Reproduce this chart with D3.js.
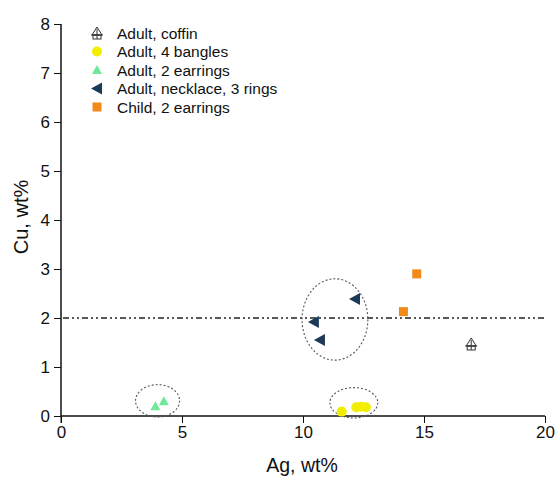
<!DOCTYPE html>
<html><head><meta charset="utf-8">
<script src="https://cdn.jsdelivr.net/npm/d3@7"></script>
<style>body{margin:0;background:#fff}svg{display:block;font-family:"Liberation Sans",Arial,sans-serif}</style>
</head><body><svg id="c" width="556" height="477"></svg>
<script>
const xTicks = [0, 5, 10, 15, 20];
const yTicks = [0, 1, 2, 3, 4, 5, 6, 7, 8];
const seriesNames = ["Adult, coffin", "Adult, 4 bangles", "Adult, 2 earrings", "Adult, necklace, 3 rings", "Child, 2 earrings"];
const coffin = [[16.95, 1.47]];
const bangles = [[11.6, 0.09], [12.2, 0.18], [12.4, 0.19], [12.6, 0.18]];
const earrings = [[3.9, 0.2], [4.25, 0.3]];
const necklace = [[12.15, 2.39], [10.45, 1.92], [10.7, 1.55]];
const child = [[14.15, 2.13], [14.7, 2.9]];
const refLineY = 2;
const ellipses = [[3.99, 0.31, 0.91, 0.33], [12.1, 0.27, 0.99, 0.31], [11.32, 1.97, 1.36, 0.83]];

const svg = d3.select("#c");
const x = d3.scaleLinear().domain([0, 20]).range([61, 545]);
const y = d3.scaleLinear().domain([0, 8]).range([416, 24]);

// axes
const gx = svg.append("g").attr("transform", `translate(0,${y(0)})`)
  .call(d3.axisBottom(x).tickValues(xTicks).tickSize(7).tickPadding(3));
const gy = svg.append("g").attr("transform", `translate(${x(0)},0)`)
  .call(d3.axisLeft(y).tickValues(yTicks).tickSize(7).tickPadding(4));
[gx, gy].forEach(g => {
  g.select(".domain").attr("stroke", "#111").attr("stroke-width", 1.5);
  g.selectAll(".tick line").attr("stroke", "#111").attr("stroke-width", 1);
  g.selectAll(".tick text").attr("font-size", 17).attr("fill", "#111").attr("font-family", "Liberation Sans, Arial, sans-serif");
});
gx.select(".domain").attr("d", `M${x(0)},0H${x(20)}`);
gy.select(".domain").attr("d", `M0,${y(8)}V${y(0)}`);
svg.append("line").attr("x1", x(0)).attr("x2", x(0)).attr("y1", y(0)).attr("y2", y(0) + 7).attr("stroke", "#111");

// axis labels
svg.append("text").attr("x", 302).attr("y", 472).attr("text-anchor", "middle")
  .attr("font-size", 19.5).attr("fill", "#111").text("Ag, wt%");
svg.append("text").attr("transform", `translate(28,217) rotate(-90)`).attr("text-anchor", "middle")
  .attr("font-size", 20).attr("fill", "#111").text("Cu, wt%");

// reference line
svg.append("line").attr("x1", x(0) + 2).attr("x2", x(20)).attr("y1", y(refLineY)).attr("y2", y(refLineY))
  .attr("stroke", "#222").attr("stroke-width", 1.5).attr("stroke-dasharray", "6,3,2,3,2,3");

// ellipses
svg.selectAll("ellipse.grp").data(ellipses).join("ellipse")
  .attr("cx", d => x(d[0])).attr("cy", d => y(d[1]))
  .attr("rx", d => x(d[2]) - x(0)).attr("ry", d => y(0) - y(d[3]))
  .attr("fill", "none").attr("stroke", "#556").attr("stroke-width", 1.1).attr("stroke-dasharray", "2,2");

// marker drawers
const colors = {coffin: "#333", bangles: "#f2ee00", earrings: "#6fe89a", necklace: "#1c3a58", child: "#f28a1a"};
function coffinMark(g, cx, cy) {
  g.append("path").attr("d", `M${cx},${cy-6}L${cx+5},${cy+2}L${cx-5},${cy+2}Z`).attr("fill", "none").attr("stroke", colors.coffin).attr("stroke-width", 1);
  g.append("rect").attr("x", cx - 4).attr("y", cy + 2).attr("width", 8).attr("height", 4).attr("fill", "none").attr("stroke", colors.coffin).attr("stroke-width", 1);
  g.append("line").attr("x1", cx).attr("x2", cx).attr("y1", cy - 4).attr("y2", cy + 6).attr("stroke", colors.coffin);
  g.append("line").attr("x1", cx - 6).attr("x2", cx + 6).attr("y1", cy + 2).attr("y2", cy + 2).attr("stroke", colors.coffin);
}
function circleMark(g, cx, cy) { g.append("circle").attr("cx", cx).attr("cy", cy).attr("r", 5).attr("fill", colors.bangles); }
function triUp(g, cx, cy) { g.append("path").attr("d", `M${cx},${cy-5}L${cx+5},${cy+4}L${cx-5},${cy+4}Z`).attr("fill", colors.earrings); }
function triLeft(g, cx, cy) { g.append("path").attr("d", `M${cx-6},${cy}L${cx+5},${cy-6}L${cx+5},${cy+6}Z`).attr("fill", colors.necklace); }
function sq(g, cx, cy) { g.append("rect").attr("x", cx - 4.5).attr("y", cy - 4.5).attr("width", 9).attr("height", 9).attr("fill", colors.child); }

const groups = [[coffin, coffinMark], [bangles, circleMark], [earrings, triUp], [necklace, triLeft], [child, sq]];
const pg = svg.append("g");
groups.forEach(([data, fn]) => data.forEach(d => fn(pg, x(d[0]), y(d[1]))));

// legend
const lg = svg.append("g");
seriesNames.forEach((name, i) => {
  const ly = 33 + i * 18.5;
  groups[i][1](lg, 97, ly);
  lg.append("text").attr("x", 117).attr("y", ly + 5.5).attr("font-size", 15.5).attr("fill", "#111").text(name);
});
</script></body></html>
